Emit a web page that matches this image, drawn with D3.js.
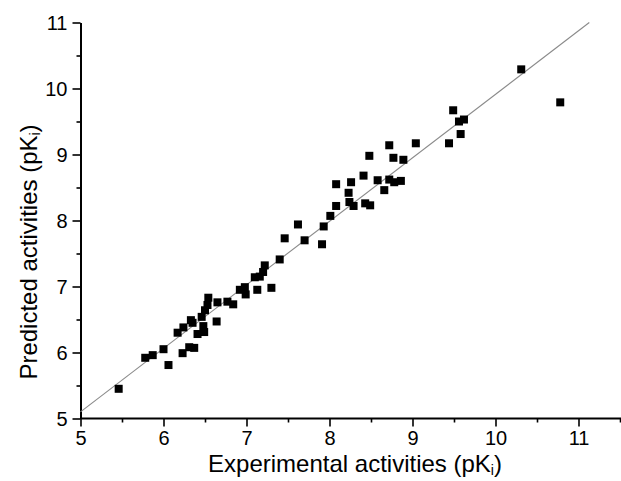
<!DOCTYPE html>
<html>
<head>
<meta charset="utf-8">
<script src="https://cdn.jsdelivr.net/npm/d3@7"></script>
<style>
  body { margin: 0; background: #fff; }
  svg { display: block; font-family: "Liberation Sans", Arial, sans-serif; }
  .axis path, .axis line { stroke: #000; }
  .axis path { stroke-width: 2; }
  .axis line { stroke-width: 1.6; }
  .axis text { font-size: 20px; fill: #000; }
</style>
</head>
<body>
<div id="chart"></div>
<script>
// experimental vs predicted pKi
const expVals = [5.46, 5.78, 5.87, 6.00, 6.06, 6.17, 6.24, 6.23, 6.31, 6.37,
                 6.33, 6.35, 6.41, 6.49, 6.48, 6.46, 6.50, 6.53, 6.54, 6.65,
                 6.64, 6.77, 6.84, 6.92, 6.98, 6.99, 7.10, 7.13, 7.16, 7.20,
                 7.22, 7.30, 7.40, 7.46, 7.62, 7.70, 7.91, 7.93, 8.01, 8.08,
                 8.08, 8.23, 8.24, 8.26, 8.29, 8.41, 8.43, 8.48, 8.49, 8.58,
                 8.66, 8.72, 8.72, 8.77, 8.78, 8.86, 8.89, 9.04, 9.44, 9.49,
                 9.56, 9.58, 9.62, 10.31, 10.78];
const predVals = [5.45, 5.92, 5.96, 6.05, 5.81, 6.30, 6.38, 5.99, 6.08, 6.07,
                  6.49, 6.45, 6.28, 6.31, 6.40, 6.54, 6.64, 6.72, 6.83, 6.76,
                  6.47, 6.77, 6.73, 6.95, 6.99, 6.88, 7.14, 6.95, 7.15, 7.22,
                  7.32, 6.98, 7.41, 7.73, 7.94, 7.70, 7.64, 7.91, 8.07, 8.22,
                  8.55, 8.42, 8.28, 8.58, 8.22, 8.68, 8.26, 8.98, 8.23, 8.61,
                  8.46, 9.14, 8.62, 8.95, 8.58, 8.60, 8.92, 9.17, 9.17, 9.67,
                  9.50, 9.31, 9.53, 10.29, 9.79];
// reference line endpoints
const fitX = [5, 11.13];
const fitY = [5.1, 11.0];

const xMajor = [5, 6, 7, 8, 9, 10, 11];
const xMinor = [5.5, 6.5, 7.5, 8.5, 9.5, 10.5, 11.5];
const yMajor = [5, 6, 7, 8, 9, 10, 11];
const yMinor = [5.5, 6.5, 7.5, 8.5, 9.5, 10.5];

const width = 621, height = 481;

const svg = d3.select("#chart").append("svg")
    .attr("width", width)
    .attr("height", height);

const x = d3.scaleLinear().domain([5, 11.5]).range([80.5, 620]);
const y = d3.scaleLinear().domain([5, 11]).range([418.5, 22.5]);
const fmt = d3.format("d");

// minor ticks first
svg.append("g").attr("class", "axis")
    .attr("transform", "translate(0,418.5)")
    .call(d3.axisBottom(x).tickValues(xMinor).tickSize(4).tickSizeOuter(0).tickFormat(""))
    .select(".domain").remove();
svg.append("g").attr("class", "axis")
    .attr("transform", "translate(80.5,0)")
    .call(d3.axisLeft(y).tickValues(yMinor).tickSize(4).tickSizeOuter(0).tickFormat(""))
    .select(".domain").remove();

const xAxis = svg.append("g").attr("class", "axis")
    .attr("transform", "translate(0,418.5)")
    .call(d3.axisBottom(x).tickValues(xMajor).tickSize(8).tickSizeOuter(0)
        .tickPadding(4).tickFormat(fmt));
xAxis.select(".domain").attr("d", "M80.5,0H621");

const yAxis = svg.append("g").attr("class", "axis")
    .attr("transform", "translate(80.5,0)")
    .call(d3.axisLeft(y).tickValues(yMajor).tickSize(8).tickSizeOuter(0)
        .tickPadding(5).tickFormat(fmt));
yAxis.selectAll("text").attr("dy", "0.36em");

// diagonal line
const line = d3.line()
    .x((d, i) => x(d))
    .y((d, i) => y(fitY[i]));
svg.append("path")
    .attr("d", line(fitX))
    .attr("fill", "none")
    .attr("stroke", "#8a8a8a")
    .attr("stroke-width", 1.1);

// points
const sq = 8;
svg.append("g").selectAll("rect")
    .data(expVals)
    .join("rect")
    .attr("x", d => x(d) - sq / 2)
    .attr("y", (d, i) => y(predVals[i]) - sq / 2)
    .attr("width", sq)
    .attr("height", sq)
    .attr("fill", "#000");

// axis titles
const xt = svg.append("text")
    .attr("x", 355)
    .attr("y", 472)
    .attr("text-anchor", "middle")
    .attr("font-size", 24);
xt.append("tspan").text("Experimental activities (pK");
xt.append("tspan").attr("font-size", 14).attr("dy", 3).text("i");
xt.append("tspan").attr("dy", -3).text(")");

const yt = svg.append("text")
    .attr("transform", "translate(37,252) rotate(-90)")
    .attr("text-anchor", "middle")
    .attr("font-size", 24);
yt.append("tspan").text("Predicted activities (pK");
yt.append("tspan").attr("font-size", 14).attr("dy", 3).text("i");
yt.append("tspan").attr("dy", -3).text(")");
</script>
</body>
</html>
